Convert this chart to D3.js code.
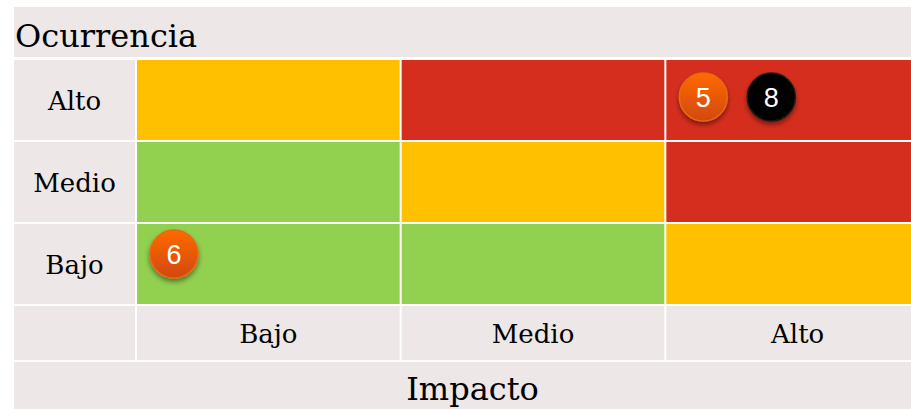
<!DOCTYPE html>
<html>
<head>
<meta charset="utf-8">
<script src="https://cdn.jsdelivr.net/npm/d3@7"></script>
<style>
  html, body { margin: 0; padding: 0; background: #ffffff; overflow: hidden; }
  svg { display: block; }
</style>
</head>
<body>
<svg id="chart" width="911" height="409"></svg>
<script>
// ---- data ----
const impactLevels = ["Bajo", "Medio", "Alto"];          // x categories
const occurrenceLevels = ["Alto", "Medio", "Bajo"];      // y categories (top to bottom)
const yTitle = "Ocurrencia";
const xTitle = "Impacto";
// risk level of each cell: rows = occurrence (Alto, Medio, Bajo), cols = impact (Bajo, Medio, Alto)
const riskMatrix = [
  ["medio", "alto", "alto"],
  ["bajo", "medio", "alto"],
  ["bajo", "bajo", "medio"]
];
const riskIds     = [5, 8, 6];
const riskImpact  = ["Alto", "Alto", "Bajo"];
const riskOccur   = ["Alto", "Alto", "Bajo"];
const riskSlot    = [0, 1, 0];
const riskKind    = ["orange", "black", "orange"];

// ---- styles ----
const riskColor = { bajo: "#92D050", medio: "#FFC000", alto: "#D62E1E" };
const bandFill = "#EDE7E7";
const gap = 2;
const left = 14, labelW = 123;
const gridX0 = left + labelW, gridX1 = 931;
const titleTop = 7, titleH = 50;
const gridY0 = 60, rowStep = 82;
const axisRowH = 54;

const svg = d3.select("#chart");
const defs = svg.append("defs");

const grad = defs.append("linearGradient").attr("id", "orangeGrad")
  .attr("x1", 0).attr("y1", 0).attr("x2", 0).attr("y2", 1);
grad.append("stop").attr("offset", "0%").attr("stop-color", "#FF6A00");
grad.append("stop").attr("offset", "100%").attr("stop-color", "#D2480C");

const gradB = defs.append("linearGradient").attr("id", "blackGrad")
  .attr("x1", 0).attr("y1", 0).attr("x2", 0).attr("y2", 1);
gradB.append("stop").attr("offset", "0%").attr("stop-color", "#000000");
gradB.append("stop").attr("offset", "100%").attr("stop-color", "#050505");

const shadow = defs.append("filter").attr("id", "shadow")
  .attr("x", "-50%").attr("y", "-50%").attr("width", "200%").attr("height", "200%");
shadow.append("feDropShadow").attr("dx", 0).attr("dy", 3).attr("stdDeviation", 2.5)
  .attr("flood-color", "#000").attr("flood-opacity", 0.45);

// scales
const x = d3.scaleBand().domain(impactLevels).range([gridX0, gridX1]).paddingInner(0).paddingOuter(0);
const y = d3.scaleBand().domain(occurrenceLevels)
  .range([gridY0, gridY0 + rowStep * occurrenceLevels.length]);

const serif = "'DejaVu Serif', Georgia, serif";

// Title band
svg.append("rect").attr("x", left).attr("y", titleTop)
  .attr("width", gridX1 - left).attr("height", titleH).attr("fill", bandFill);
svg.append("text").attr("x", left + 1).attr("y", titleTop + 40)
  .attr("font-family", serif).attr("font-size", 32).attr("fill", "#000")
  .text(yTitle);

// Row label cells
svg.append("g").selectAll("rect").data(occurrenceLevels).join("rect")
  .attr("x", left).attr("y", d => y(d))
  .attr("width", labelW - gap).attr("height", y.bandwidth() - gap)
  .attr("fill", bandFill);
svg.append("g").selectAll("text").data(occurrenceLevels).join("text")
  .attr("x", left + (labelW - gap) / 2).attr("y", d => y(d) + 50)
  .attr("text-anchor", "middle").attr("font-family", serif).attr("font-size", 26)
  .attr("fill", "#000").text(d => d);

// Matrix cells
const cells = [];
occurrenceLevels.forEach((o, i) => impactLevels.forEach((im, j) => cells.push({ o, im, level: riskMatrix[i][j] })));
svg.append("g").selectAll("rect").data(cells).join("rect")
  .attr("x", d => x(d.im)).attr("y", d => y(d.o))
  .attr("width", x.bandwidth() - gap).attr("height", y.bandwidth() - gap)
  .attr("fill", d => riskColor[d.level]);

// Axis row
const axisY = y.range()[1];
svg.append("rect").attr("x", left).attr("y", axisY)
  .attr("width", labelW - gap).attr("height", axisRowH).attr("fill", bandFill);
svg.append("g").selectAll("rect").data(impactLevels).join("rect")
  .attr("x", d => x(d)).attr("y", axisY)
  .attr("width", x.bandwidth() - gap).attr("height", axisRowH).attr("fill", bandFill);
svg.append("g").selectAll("text").data(impactLevels).join("text")
  .attr("x", d => x(d) + (x.bandwidth() - gap) / 2).attr("y", axisY + 37)
  .attr("text-anchor", "middle").attr("font-family", serif).attr("font-size", 26)
  .attr("fill", "#000").text(d => d);

// Impacto band
const bottomY = axisY + axisRowH + gap;
svg.append("rect").attr("x", left).attr("y", bottomY)
  .attr("width", gridX1 - left).attr("height", 60).attr("fill", bandFill);
svg.append("text").attr("x", (left + gridX1) / 2).attr("y", bottomY + 38)
  .attr("text-anchor", "middle").attr("font-family", serif).attr("font-size", 32)
  .attr("fill", "#000").text(xTitle);

// Risk badges
const risks = riskIds.map((id, i) => ({ id, im: riskImpact[i], o: riskOccur[i], slot: riskSlot[i], kind: riskKind[i] }));
const r = 24;
const badge = svg.append("g").selectAll("g").data(risks).join("g")
  .attr("transform", d => {
    const cx = x(d.im) + 37 + d.slot * 68;
    const cy = y(d.o) + (d.o === "Alto" ? 37 : 30);
    return `translate(${cx},${cy})`;
  });
badge.append("circle").attr("r", r)
  .attr("fill", d => d.kind === "orange" ? "url(#orangeGrad)" : "url(#blackGrad)")
  .attr("stroke", d => d.kind === "orange" ? "#E86A12" : "#1a1a1a")
  .attr("stroke-width", 1.5)
  .attr("filter", "url(#shadow)");
badge.append("text").attr("text-anchor", "middle").attr("y", 10)
  .attr("font-family", "'Liberation Sans', Arial, sans-serif").attr("font-size", 27)
  .attr("fill", "#fff").text(d => d.id);
</script>
</body>
</html>
